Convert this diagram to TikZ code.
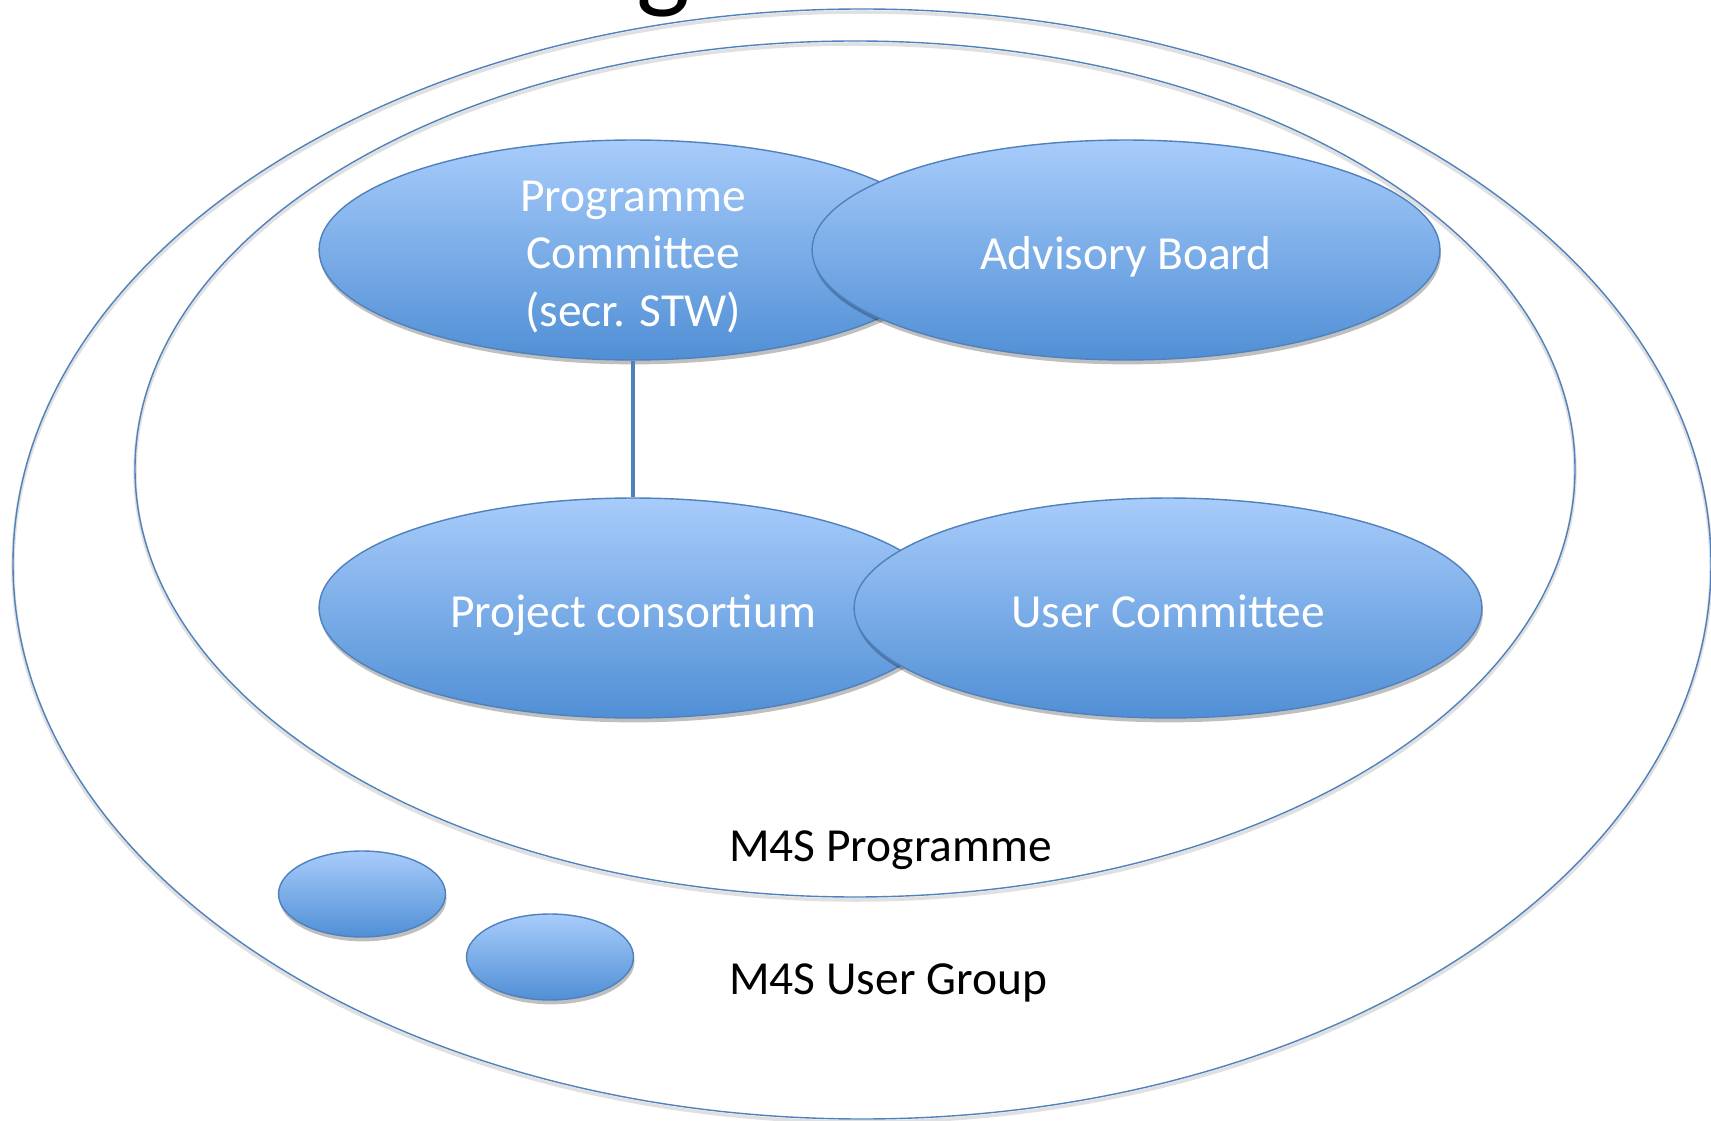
\documentclass[tikz,border=0pt]{standalone}
\usepackage{fontspec}
\setmainfont{Carlito}
\usetikzlibrary{shapes.geometric,shadows}
\definecolor{edgeblue}{RGB}{79,129,189}
\definecolor{topblue}{RGB}{168,204,251}
\definecolor{botblue}{RGB}{80,143,213}
\begin{document}
\begin{tikzpicture}[x=0.02cm,y=-0.02cm,
  bubble/.style={ellipse, draw=edgeblue, line width=0.8pt, top color=topblue, bottom color=botblue, inner sep=0pt,
    drop shadow={shadow xshift=0.6pt, shadow yshift=-2.5pt, opacity=0.25, fill=black}},
  bigbubble/.style={bubble, minimum width=12.56cm, minimum height=4.4cm},
  smallbubble/.style={bubble, minimum width=3.34cm, minimum height=1.72cm},
  lbl/.style={text=white, font=\fontsize{27}{32.5}\selectfont, align=center, inner sep=0pt},
  blk/.style={text=black, font=\fontsize{27}{32.5}\selectfont, anchor=west, inner sep=0pt},
  ring/.style={draw=edgeblue, line width=0.8pt},
  ringshadow/.style={draw=black, opacity=0.12, line width=2pt}
]
\useasboundingbox (0,0) rectangle (1711,1121);
\node[anchor=base, inner sep=0pt, font=\fontsize{65}{78}\selectfont] (title) at (663,-2) {g};
% outer rings
\draw[ringshadow] (862,567) ellipse [x radius=849, y radius=555];
\draw[ring] (862,564) ellipse [x radius=849, y radius=555];
\draw[ringshadow] (855,472) ellipse [x radius=720, y radius=428];
\draw[ring] (855,469) ellipse [x radius=720, y radius=428];
% main bubbles
\node[bigbubble] (pc) at (633,250) {};
\node[bigbubble] (ab) at (1126,250) {};
\node[bigbubble] (pcons) at (633,608) {};
\node[bigbubble] (uc) at (1168,608) {};
\draw[edgeblue, line width=2.8pt] (pc.south) -- (pcons.north);
\node[lbl] (pct) at (633,257) {Programme\\Committee\\(secr. STW)};
\node[lbl] (abt) at (1126,257) {Advisory Board};
\node[lbl] (pconst) at (633,615) {Project consortium};
\node[lbl] (uct) at (1168,611) {User Committee};
% small bubbles
\node[smallbubble] (s1) at (362,894) {};
\node[smallbubble] (s2) at (550,957) {};
% labels
\node[blk] (prog) at (729,850) {M4S Programme};
\node[blk] (ug) at (729,983) {M4S User Group};
\end{tikzpicture}
\end{document}
